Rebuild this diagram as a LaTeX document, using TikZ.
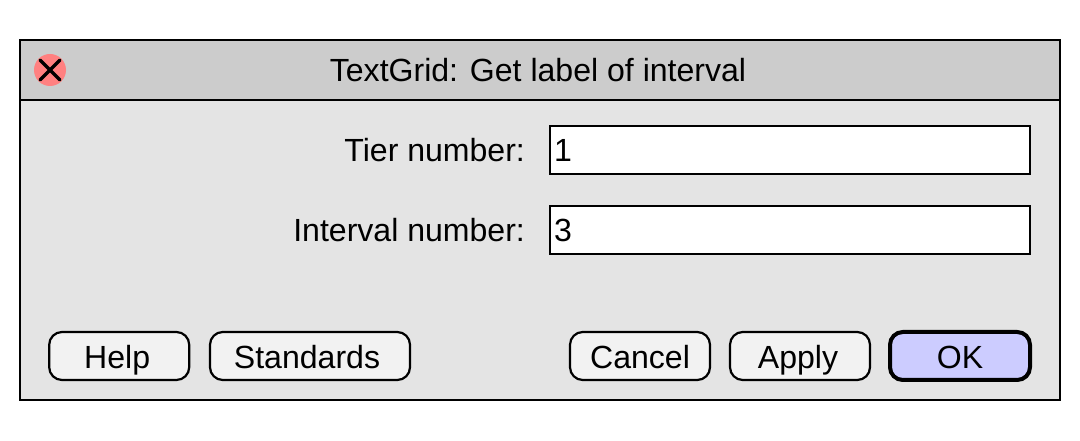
\documentclass[tikz,border=0pt]{standalone}
\usepackage{fontspec}
\setmainfont{Liberation Sans}
\usetikzlibrary{positioning}
\tikzset{
  dialogtext/.style={font=\fontsize{22.8}{26}\selectfont, text height=0.76cm, text depth=0.2cm, inner sep=0pt},
  btn/.style={dialogtext, text height=0.8cm, draw, line width=0.055cm, rounded corners=0.32cm, fill=black!5, minimum width=3.5cm, minimum height=1.2cm},
  field/.style={dialogtext, draw, line width=0.05cm, fill=white, minimum width=12cm, minimum height=1.2cm, text width=11.8cm, align=left},
  fieldlabel/.style={dialogtext, anchor=east}
}
\begin{document}
\begin{tikzpicture}
  \useasboundingbox (0,0) rectangle (27,11);
  \fill[white] (0,0) rectangle (27,11);
  % window
  \draw[line width=0.05cm, fill=black!10.5] (0.5,1) rectangle (26.5,10);
  \draw[line width=0.05cm, fill=black!20] (0.5,8.5) rectangle (26.5,10);
  \node[dialogtext] (title) at (13.45,9.25) {TextGrid: Get label of interval};
  % close button
  \node[circle, fill=red!50, minimum size=0.8cm, inner sep=0pt] (close) at (1.25,9.25) {};
  \draw[line width=0.08cm, line cap=round] (close.center) +(-0.25,-0.25) -- +(0.25,0.25);
  \draw[line width=0.08cm, line cap=round] (close.center) +(-0.25,0.25) -- +(0.25,-0.25);
  % fields
  \node[field] (tier) at (19.75,7.25) {1};
  \node[field] (interval) at (19.75,5.25) {3};
  \node[fieldlabel] (tierlabel) at (13.13,7.25) {Tier number:};
  \node[fieldlabel] (intervallabel) at (13.13,5.25) {Interval number:};
  % buttons
  \node[btn] (help) at (2.98,2.1) {Help\kern0.1cm};
  \node[btn, minimum width=5cm] (standards) at (7.75,2.1) {Standards\kern0.15cm};
  \node[btn] (cancel) at (16,2.1) {Cancel};
  \node[btn] (apply) at (20,2.1) {Apply\kern0.1cm};
  \node[btn, fill=blue!20, line width=0.1cm] (ok) at (24,2.1) {OK};
\end{tikzpicture}
\end{document}
